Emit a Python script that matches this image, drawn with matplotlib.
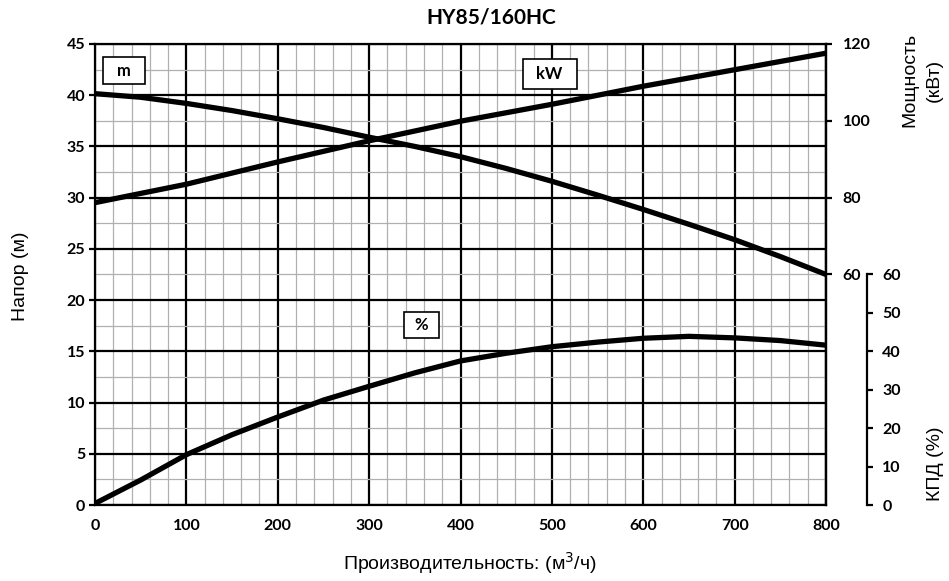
import matplotlib
matplotlib.use('Agg')
import matplotlib.pyplot as plt
from matplotlib.patches import Rectangle
from matplotlib.ticker import MultipleLocator

# flow, m3/h
q = [0, 50, 100, 150, 200, 250, 300, 350, 400, 450, 500, 550, 600, 650, 700, 750, 800]
# head, m
head = [40.15, 39.8, 39.2, 38.5, 37.7, 36.85, 35.9, 35.0, 34.0, 32.85, 31.6, 30.25, 28.85, 27.4, 25.9, 24.25, 22.5]
# efficiency, %
eff = [0.4, 6.5, 13.1, 18.3, 22.9, 27.3, 30.9, 34.4, 37.5, 39.5, 41.2, 42.4, 43.4, 43.9, 43.5, 42.8, 41.6]
# power, kW
q_kw = [0, 100, 200, 300, 400, 500, 600, 700, 800]
power = [78.7, 83.5, 89.3, 94.8, 99.9, 104.3, 109.0, 113.3, 117.6]

title = 'HY85/160HC'
tickfont = 'Lato'
labfont = ['Liberation Sans', 'DejaVu Sans']
tsize = 11.5

fig = plt.figure(figsize=(9.49, 5.81), dpi=100)
ax = fig.add_axes([0.1001, 0.1308, 0.7703, 0.7935])

ax.set_xlim(0, 800)
ax.set_ylim(0, 45)
ax.xaxis.set_major_locator(MultipleLocator(100))
ax.xaxis.set_minor_locator(MultipleLocator(20))
ax.yaxis.set_major_locator(MultipleLocator(5))
ax.yaxis.set_minor_locator(MultipleLocator(2.5))
ax.grid(which='minor', color='#b0b0b0', lw=0.9)
ax.grid(which='major', color='black', lw=1.6)
ax.set_axisbelow(True)
for s in ax.spines.values():
    s.set_linewidth(1.6)
ax.tick_params(axis='x', which='both', length=0, pad=10)
ax.tick_params(axis='y', which='major', length=4, width=1.6, pad=3)
ax.tick_params(axis='y', which='minor', length=0)
for lab in ax.get_xticklabels() + ax.get_yticklabels():
    lab.set_fontfamily(tickfont)
    lab.set_fontweight('bold')
    lab.set_fontsize(tsize)

# power axis
ax2 = ax.twinx()
ax2.set_ylim(0, 120)
ax2.set_yticks([60, 80, 100, 120])
ax2.tick_params(axis='y', length=4, width=1.6, pad=8)
ax2.spines['right'].set_linewidth(1.6)
for s in ['left', 'top', 'bottom']:
    ax2.spines[s].set_visible(False)

# efficiency axis
ax3 = ax.twinx()
ax3.set_ylim(0, 120)
ax3.spines['right'].set_position(('axes', 1.056))
ax3.spines['right'].set_bounds(0, 60)
ax3.spines['right'].set_linewidth(1.6)
for s in ['left', 'top', 'bottom']:
    ax3.spines[s].set_visible(False)
ax3.set_yticks([0, 10, 20, 30, 40, 50, 60])
ax3.tick_params(axis='y', length=4, width=1.6, pad=7)

for a in (ax2, ax3):
    for lab in a.get_yticklabels():
        lab.set_fontfamily(tickfont)
        lab.set_fontweight('bold')
        lab.set_fontsize(tsize)

ax.plot(q, head, color='black', lw=3.8, solid_capstyle='butt', clip_on=False, zorder=5)
ax2.plot(q_kw, power, color='black', lw=3.8, solid_capstyle='butt', clip_on=False, zorder=5)
ax3.plot(q, eff, color='black', lw=3.8, solid_capstyle='butt', clip_on=False, zorder=5)

# curve label boxes
for (x0, y0, w, h, txt) in [(9, 41.1, 46, 2.6, 'm'), (468, 40.6, 59, 2.9, 'kW'), (338, 16.3, 38, 2.5, '%')]:
    ax.add_patch(Rectangle((x0, y0), w, h, facecolor='white', edgecolor='black', lw=1.2, zorder=6))
    ax.text(x0 + w / 2, y0 + h / 2, txt, ha='center', va='center', fontsize=12,
            fontfamily=tickfont, fontweight='bold', zorder=7)

fig.text(0.518, 0.970, title, ha='center', va='center', fontsize=15,
         fontfamily=tickfont, fontweight='bold')
fig.text(0.022, 0.525, 'Напор (м)', rotation=90, ha='center', va='center',
         fontsize=14, fontfamily=labfont)
fig.text(0.495, 0.031, 'Производительность: (м$^3$/ч)', ha='center', va='center',
         fontsize=14, fontfamily=labfont)
fig.text(0.972, 0.862, 'Мощность\n(кВт)', rotation=90, ha='center', va='center',
         fontsize=14, fontfamily=labfont, multialignment='center', linespacing=1.55)
fig.text(0.986, 0.201, 'КПД (%)', rotation=90, ha='center', va='center',
         fontsize=14, fontfamily=labfont)

fig.savefig('out.png', dpi=100)
